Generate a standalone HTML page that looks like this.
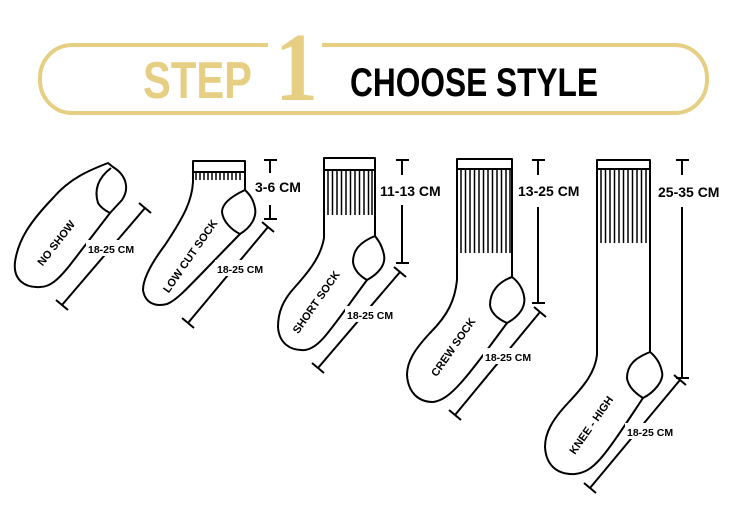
<!DOCTYPE html>
<html><head><meta charset="utf-8"><style>
html,body{margin:0;padding:0;background:#fff;}
svg{display:block;}
text{font-family:"Liberation Sans",sans-serif;font-weight:bold;}
</style></head><body>
<svg width="750" height="507" viewBox="0 0 750 507" xmlns="http://www.w3.org/2000/svg">
<!-- header -->
<path d="M268,45 H72 A32,33 0 0 0 40,78 V80 A32,33 0 0 0 72,113 H675 A32,33 0 0 0 707,80 V78 A32,33 0 0 0 675,45 H322" fill="none" stroke="#e6cf82" stroke-width="4"/>
<text x="143" y="98" font-size="52" fill="#e6cf82" textLength="109" lengthAdjust="spacingAndGlyphs">STEP</text>
<text x="275" y="100" font-size="97" fill="#e6cf82" style="font-family:'Liberation Serif',serif" textLength="43" lengthAdjust="spacingAndGlyphs">1</text>
<text x="350" y="96" font-size="40" fill="#000" textLength="248" lengthAdjust="spacingAndGlyphs">CHOOSE STYLE</text>

<g fill="none" stroke="#000" stroke-width="2" stroke-linejoin="round" stroke-linecap="butt">
<!-- NO SHOW -->
<path d="M108,163 C90,170 70,178 53,198 C30,222 18,240 15,262 C13,280 25,288 40,287 C50,287 58,280 70,265 L110,213 L122,200 C130,188 126,175 113,167 Z"/>
<path d="M111,168 C98,178 94,190 98,203 C101,208 106,211 110,213"/>
<!-- LOW CUT -->
<rect x="193" y="161" width="52" height="11"/>
<path d="M193,172 V182 C192,200 185,215 165,245 C150,265 143,280 143,290 C145,303 155,307 167,304 C178,300 190,285 240,234"/>
<path d="M245,172 V190 C232,196 222,203 222,212 C223,222 232,230 240,234 C250,228 257,218 255,208 C253,198 249,194 245,190"/>
<!-- SHORT -->
<rect x="324" y="158" width="51" height="12"/>
<path d="M324,170 V238 C321,255 312,268 295,287 C283,300 278,312 278,327 C279,343 290,351 305,350 C320,348 330,330 367,280"/>
<path d="M375,170 V236 C360,242 353,250 353,262 C354,270 360,276 367,280 C378,274 386,265 384,255 C382,245 378,240 375,236"/>
<!-- CREW -->
<rect x="457" y="159" width="55" height="10"/>
<path d="M457,169 V280 C455,300 448,315 430,333 C414,350 407,362 407,375 C408,392 418,402 433,402 C450,400 465,380 507,323"/>
<path d="M512,169 V277 C498,282 490,292 490,305 C491,313 498,319 507,323 C520,316 526,306 524,296 C522,286 516,280 512,277"/>
<!-- KNEE -->
<rect x="597" y="160" width="53" height="9"/>
<path d="M597,169 V355 C595,372 585,385 568,403 C552,420 545,433 545,447 C546,465 557,475 575,474 C595,472 605,455 643,398"/>
<path d="M650,169 V352 C635,358 627,365 627,378 C628,386 635,393 643,398 C655,392 664,380 662,372 C660,362 655,356 650,352"/>
</g>
<!-- ribs -->
<g stroke="#000" stroke-width="1.5">
<path d="M196,172v8M200,172v8M204,172v8M208,172v8M212,172v8M216,172v8M220,172v8M224,172v8M228,172v8M232,172v8M236,172v8M240,172v8"/>
<path d="M328,170v45M332.5,170v45M337,170v45M341.5,170v45M346,170v45M350.5,170v45M355,170v45M359.5,170v45M364,170v45M368.5,170v45M372,170v45"/>
<path d="M461,169v84M465.5,169v84M470,169v84M474.5,169v84M479,169v84M483.5,169v84M488,169v84M492.5,169v84M497,169v84M501.5,169v84M506,169v84M510,169v84"/>
<path d="M601,169v74M605.5,169v74M610,169v74M614.5,169v74M619,169v74M623.5,169v74M628,169v74M632.5,169v74M637,169v74M641.5,169v74M646,169v74"/>
</g>
<!-- dimension lines -->
<g stroke="#000" stroke-width="2" fill="none">
<path d="M62,305 L145,208 M56,300 L68,310 M139,203 L151,213"/>
<path d="M264,160H277M270,160V173M270,205V219M264,219H277"/>
<path d="M188,323 L268,227 M182,318 L194,328 M262,222 L274,232"/>
<path d="M396,160H409M402,160V175M402,205V263M396,263H409"/>
<path d="M318,368 L400,272 M312,363 L324,373 M394,267 L406,277"/>
<path d="M532,160H545M538,160V175M538,207V303M532,303H545"/>
<path d="M455,415 L540,312 M449,410 L461,420 M534,307 L546,317"/>
<path d="M676,160H689M682,160V175M682,207V378M676,378H689"/>
<path d="M590,488 L680,380 M584,483 L596,493 M674,375 L686,385"/>
</g>
<!-- label backgrounds -->
<g fill="#fff">
<rect x="86" y="240" width="56" height="16"/>
<rect x="215" y="260" width="56" height="16"/>
<rect x="345" y="306" width="56" height="16"/>
<rect x="483" y="348" width="56" height="16"/>
<rect x="625" y="423" width="56" height="16"/>
</g>
<!-- labels -->
<g fill="#000">
<text x="88" y="253" font-size="10.5">18-25 CM</text>
<text x="217" y="273" font-size="10.5">18-25 CM</text>
<text x="347" y="319" font-size="10.5">18-25 CM</text>
<text x="485" y="361" font-size="10.5">18-25 CM</text>
<text x="627" y="436" font-size="10.5">18-25 CM</text>
<text x="255" y="192" font-size="14">3-6 CM</text>
<text x="380" y="196" font-size="14">11-13 CM</text>
<text x="518" y="196" font-size="14">13-25 CM</text>
<text x="658" y="197" font-size="14">25-35 CM</text>
<text font-size="11" transform="translate(56,243) rotate(-52)" text-anchor="middle" dy="4">NO SHOW</text>
<text font-size="11" transform="translate(190,256) rotate(-55)" text-anchor="middle" dy="4">LOW CUT SOCK</text>
<text font-size="11" transform="translate(316,302) rotate(-55)" text-anchor="middle" dy="4">SHORT SOCK</text>
<text font-size="11" transform="translate(453,347) rotate(-55)" text-anchor="middle" dy="4">CREW  SOCK</text>
<text font-size="11" transform="translate(591,425) rotate(-55)" text-anchor="middle" dy="4">KNEE - HIGH</text>
</g>
</svg>
</body></html>
